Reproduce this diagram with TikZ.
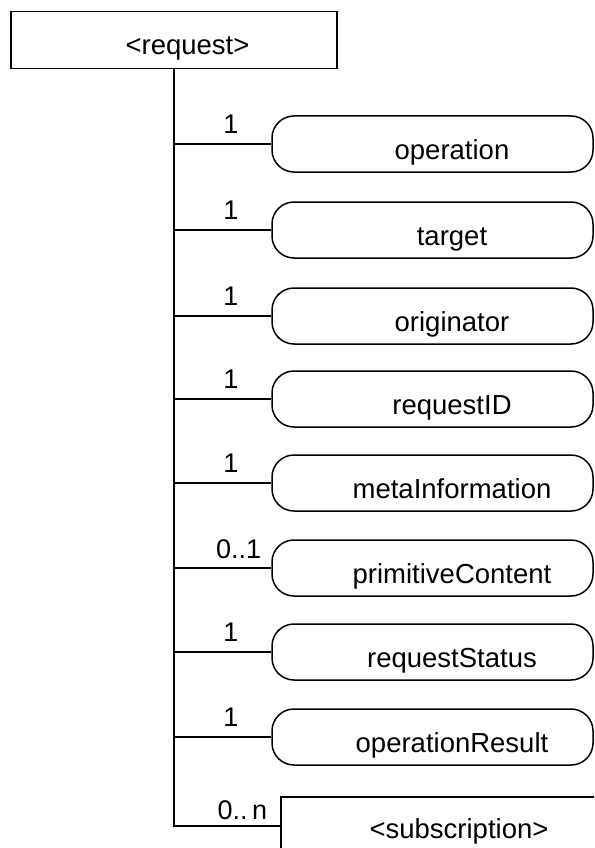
\documentclass[tikz,border=0pt]{standalone}
\usepackage{fontspec}
\setmainfont{Liberation Sans}
\begin{document}
\begin{tikzpicture}[x=1pt,y=-1pt,line width=1.5pt,
  txt/.style={inner sep=0pt,anchor=base,font=\fontsize{27.5}{32}\selectfont},
  mult/.style={inner sep=0pt,anchor=base,font=\fontsize{27}{32}\selectfont},
  attr/.style={draw,rectangle,rounded corners=22pt,minimum width=321pt,minimum height=56pt,inner sep=0pt},
  sqbox/.style={draw,rectangle,inner sep=0pt}]
\useasboundingbox (0,0) rectangle (594,848);
\clip (0,0) rectangle (594,848);
% root
\node[sqbox,minimum width=326pt,minimum height=57pt] (req) at (174,40) {};
\node[txt] (reqt) at (187.5,55) {<request>};
% attributes
\foreach \n/\y/\t in {op/144/operation, tg/230/target, or/316/originator,
  rid/399/requestID, mi/483/metaInformation, pc/568/primitiveContent,
  rs/652/requestStatus, ores/737/operationResult}{
  \node[attr] (\n) at (432.5,\y) {};
  \node[txt] (\n t) at (452,\y+15) {\t};
  \draw (req.south |- \n.west) -- (\n.west);
}
\foreach \n/\y in {op/144, tg/230, or/316, rid/399, mi/483, rs/652, ores/737}{
  \node[mult] (\n m) at (231,\y-11) {1};
}
\node[mult,anchor=base east] (pcm) at (262,558) {0..1};
% subscription
\node[sqbox,anchor=north west,minimum width=340pt,minimum height=80pt] (sub) at (280,796) {};
\node[txt] (subt) at (459,838) {<subscription>};
\coordinate (subin) at (280,826);
\draw (req.south) |- (subin);
\node[mult,anchor=base east] (subm) at (268,819) {0..\,n};
\end{tikzpicture}
\end{document}
